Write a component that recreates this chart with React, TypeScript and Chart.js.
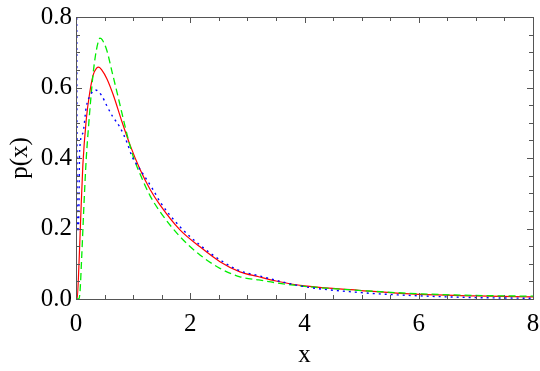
import React, { useEffect, useRef } from "react";
import { Chart, registerables } from "chart.js";
Chart.register(...registerables);

// ---- data ----
const redX = [0, 0.02, 0.05, 0.08, 0.12, 0.18, 0.24, 0.3, 0.36, 0.4, 0.45, 0.54, 0.65, 0.8, 0.95, 1.12, 1.3, 1.47, 1.82, 2.17, 2.52, 2.87, 3.2, 3.5, 4, 5, 6, 7, 8];
const redY = [0, 0.0, 0.09, 0.22, 0.38, 0.51, 0.585, 0.635, 0.655, 0.658, 0.65, 0.625, 0.58, 0.505, 0.435, 0.368, 0.31, 0.267, 0.196, 0.148, 0.106, 0.077, 0.063, 0.051, 0.037, 0.024, 0.013, 0.009, 0.006];

const greenX = [0, 0.05, 0.07, 0.1, 0.14, 0.18, 0.22, 0.26, 0.3, 0.34, 0.39, 0.42, 0.46, 0.54, 0.63, 0.72, 0.8, 0.92, 1.0, 1.12, 1.3, 1.47, 1.82, 2.17, 2.52, 2.87, 3.2, 3.5, 4, 5, 6, 7, 8];
const greenY = [0, 0, 0.02, 0.12, 0.27, 0.4, 0.49, 0.57, 0.64, 0.69, 0.73, 0.74, 0.735, 0.705, 0.645, 0.585, 0.53, 0.45, 0.405, 0.355, 0.292, 0.248, 0.177, 0.125, 0.087, 0.063, 0.054, 0.046, 0.036, 0.024, 0.015, 0.01, 0.008];

const blueX = [0.006, 0.012, 0.016, 0.02, 0.03, 0.042, 0.052, 0.063, 0.12, 0.18, 0.25, 0.34, 0.45, 0.54, 0.64, 0.77, 0.89, 0.98, 1.12, 1.35, 1.47, 1.82, 2.17, 2.52, 2.87, 3.2, 3.5, 4, 5, 6, 7, 8];
const blueY = [0.95, 0.8, 0.5, 0.28, 0.19, 0.2, 0.27, 0.42, 0.47, 0.545, 0.578, 0.593, 0.577, 0.548, 0.518, 0.487, 0.445, 0.405, 0.368, 0.31, 0.276, 0.205, 0.153, 0.111, 0.08, 0.066, 0.053, 0.035, 0.018, 0.009, 0.004, 0.002];

const xTicks = [0, 2, 4, 6, 8];
const yTicks = [0, 0.2, 0.4, 0.6, 0.8];
const xMinorTicks = [0.5, 1, 1.5, 2.5, 3, 3.5, 4.5, 5, 5.5, 6.5, 7, 7.5];
const yMinorTicks = [0.05, 0.1, 0.15, 0.25, 0.3, 0.35, 0.45, 0.5, 0.55, 0.65, 0.7, 0.75];

const xTitle = "x";
const yTitle = "p(x)";

const FONT = "'Liberation Serif', 'Times New Roman', serif";

const toPts = (xs: number[], ys: number[]) => xs.map((x, i) => ({ x, y: ys[i] }));

const frameTicks = {
  id: "frameTicks",
  afterDraw(chart: any) {
    const { ctx, chartArea } = chart;
    const { left, right, top, bottom } = chartArea;
    const xs = chart.scales.x;
    const ys = chart.scales.y;
    ctx.save();
    ctx.strokeStyle = "#555";
    ctx.lineWidth = 1;
    ctx.strokeRect(Math.round(left) + 0.5, Math.round(top) + 0.5, Math.round(right - left), Math.round(bottom - top));
    const drawX = (vals: number[], len: number) => {
      vals.forEach((v) => {
        const p = Math.round(xs.getPixelForValue(v)) + 0.5;
        ctx.beginPath();
        ctx.moveTo(p, bottom);
        ctx.lineTo(p, bottom - len);
        ctx.moveTo(p, top);
        ctx.lineTo(p, top + len);
        ctx.stroke();
      });
    };
    const drawY = (vals: number[], len: number) => {
      vals.forEach((v) => {
        const p = Math.round(ys.getPixelForValue(v)) + 0.5;
        ctx.beginPath();
        ctx.moveTo(left, p);
        ctx.lineTo(left + len, p);
        ctx.moveTo(right, p);
        ctx.lineTo(right - len, p);
        ctx.stroke();
      });
    };
    drawX(xTicks, 6);
    drawX(xMinorTicks, 4);
    drawY(yTicks, 6);
    drawY(yMinorTicks, 4);
    ctx.restore();
  },
};

export default function App() {
  const ref = useRef<HTMLCanvasElement | null>(null);
  useEffect(() => {
    document.body.style.margin = "0";
    const canvas = ref.current;
    if (!canvas) return;
    const chart = new Chart(canvas, {
      type: "line",
      data: {
        datasets: [
          {
            label: "blue",
            data: toPts(blueX, blueY),
            borderColor: "#0000ff",
            borderWidth: 1.4,
            borderDash: [2, 4],
            pointRadius: 0,
            fill: false,
            cubicInterpolationMode: "monotone",
          },
          {
            label: "green",
            data: toPts(greenX, greenY),
            borderColor: "#00ee00",
            borderWidth: 1.3,
            borderDash: [7, 4],
            pointRadius: 0,
            fill: false,
            cubicInterpolationMode: "monotone",
          },
          {
            label: "red",
            data: toPts(redX, redY),
            borderColor: "#ff0000",
            borderWidth: 1.2,
            pointRadius: 0,
            fill: false,
            cubicInterpolationMode: "monotone",
          },
        ],
      },
      options: {
        animation: false,
        responsive: false,
        devicePixelRatio: 1,
        layout: { padding: { left: 0, top: 17, right: 7, bottom: 0 } },
        plugins: { legend: { display: false }, tooltip: { enabled: false } },
        scales: {
          x: {
            type: "linear",
            min: 0,
            max: 8,
            grid: { display: false, drawTicks: false },
            border: { display: false },
            afterBuildTicks: (s: any) => {
              s.ticks = xTicks.map((v) => ({ value: v }));
            },
            afterFit: (s: any) => {
              s.height = 72;
              s.paddingLeft = 0;
              s.paddingRight = 0;
            },
            ticks: {
              color: "#000",
              font: { family: FONT, size: 25 },
              padding: 10,
              maxRotation: 0,
              autoSkip: false,
              callback: (v: any) => String(v),
            },
            title: {
              display: true,
              text: xTitle,
              color: "#000",
              font: { family: FONT, size: 25 },
              padding: { top: 0, bottom: 1 },
            },
          },
          y: {
            type: "linear",
            min: 0,
            max: 0.8,
            grid: { display: false, drawTicks: false },
            border: { display: false },
            afterBuildTicks: (s: any) => {
              s.ticks = yTicks.map((v) => ({ value: v }));
            },
            afterFit: (s: any) => {
              s.width = 76;
              s.paddingTop = 0;
              s.paddingBottom = 0;
            },
            ticks: {
              color: "#000",
              font: { family: FONT, size: 25 },
              padding: 4,
              autoSkip: false,
              callback: (v: any) => Number(v).toFixed(1),
            },
            title: {
              display: true,
              text: yTitle,
              color: "#000",
              font: { family: FONT, size: 25 },
              padding: { top: 5, bottom: 0 },
            },
          },
        },
      },
      plugins: [frameTicks],
    });
    return () => chart.destroy();
  }, []);
  return <canvas ref={ref} width={540} height={371} style={{ display: "block" }} />;
}
